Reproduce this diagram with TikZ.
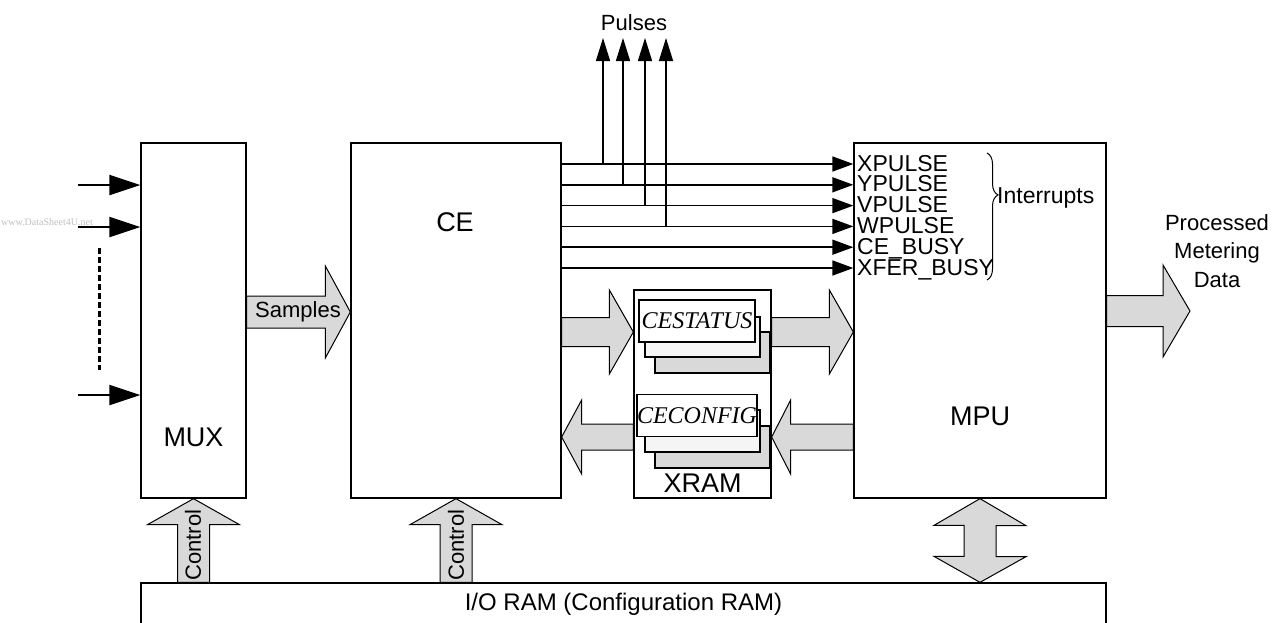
\documentclass[tikz,border=0pt]{standalone}
\usepackage{fontspec}
\setmainfont{Liberation Sans}
\newfontfamily\regfont{Liberation Serif}
\usetikzlibrary{arrows.meta, calc, decorations.pathreplacing}

\newcommand{\fatarrow}[5]{%
  \path ($(#2)!#3!(#1)$) coordinate (fb);
  \draw[fat] ($(#1)!#5!90:(#2)$) -- ($(fb)!#5!90:(#2)$) -- ($(fb)!#4!90:(#2)$) -- (#2)
    -- ($(fb)!#4!-90:(#2)$) -- ($(fb)!#5!-90:(#2)$) -- ($(#1)!#5!-90:(#2)$) -- cycle;}

\begin{document}
\begin{tikzpicture}[x=1pt, y=-1pt, line join=miter]

  \tikzstyle{block}=[draw, line width=1.3pt, inner sep=0pt]
  \tikzstyle{fat}=[draw, fill=gray!30, line width=1pt]
  \tikzstyle{sig}=[line width=1.5pt, -{Triangle[length=21pt, width=15pt]}]
  \tikzstyle{pulse}=[line width=1.5pt, -{Triangle[length=23pt, width=14pt]}]
  \tikzstyle{input}=[line width=2.2pt, -{Triangle[length=31pt, width=20pt]}]
  \tikzstyle{big}=[font=\fontsize{27}{32}\selectfont, anchor=base, inner sep=0pt]
  \tikzstyle{txt}=[font=\fontsize{22}{26}\selectfont, inner sep=0pt]
  \tikzstyle{reg}=[draw, fill=white, line width=1.1pt, inner sep=0pt, minimum width=116pt, minimum height=42pt, font=\regfont\itshape\fontsize{24}{28}\selectfont]
  \tikzstyle{shadow}=[draw, line width=1.1pt]

  \useasboundingbox (0,0) rectangle (1273,622);
  \clip (0,0) rectangle (1273,622);

  \node[block, minimum width=105pt, minimum height=355pt] (MUX) at (193.5,320.5) {};
  \node[block, minimum width=210pt, minimum height=355pt] (CE) at (456,320.5) {};
  \node[block, minimum width=137pt, minimum height=208pt] (XRAM) at (702.5,394) {};
  \node[block, minimum width=252pt, minimum height=355pt] (MPU) at (980,320.5) {};
  \node[block, minimum width=965pt, minimum height=42pt, font=\fontsize{24}{28}\selectfont] (IORAM) at (623.5,604) {I/O RAM (Configuration RAM)};

  \node[big] at (193.5,446) {MUX};
  \node[big] at (455,231) {CE};
  \node[big] at (980,425) {MPU};
  \node[big] at (702.5,492) {XRAM};

  \draw[shadow, fill=gray!30] (655,332) rectangle (770,373);
  \draw[shadow, fill=gray!8] (645,317) rectangle (760,357);
  \node[reg] (CESTATUS) at (697,321) {CESTATUS};
  \draw[shadow, fill=gray!30] (655,426) rectangle (770,468);
  \draw[shadow, fill=gray!8] (645,410) rectangle (760,452);
  \node[reg] (CECONFIG) at (697,415.5) {CECONFIG};

  \coordinate (in1) at (78,185);
  \coordinate (in2) at (78,227);
  \coordinate (in3) at (78,395);
  \foreach \n in {in1,in2,in3}
    \draw[input] (\n) -- (\n -| MUX.west);
  \draw[line width=3pt, dash pattern=on 6pt off 3pt] (99,248) -- (99,370);
  \node[font=\regfont\fontsize{10}{12}\selectfont, text=gray!50, inner sep=0pt] at (47,222) {www.DataSheet4U.net};

  \coordinate (ptop) at (0,38);
  \foreach \sig [count=\i from 0] in {XPULSE,YPULSE,VPULSE,WPULSE,CE\_BUSY,XFER\_BUSY} {
    \pgfmathsetmacro\ypos{164+20.8*\i}
    \coordinate (s\i) at (0,\ypos);
    \draw[sig] (CE.east |- s\i) -- (MPU.west |- s\i);
    \node[txt, anchor=base west, font=\fontsize{23}{26}\selectfont] at (857,\ypos+7) {\sig};
  }
  \foreach \x [count=\i from 0] in {603,623,645,666} {
    \coordinate (tap\i) at (\x,164+20.8*\i);
    \draw[pulse] (tap\i) -- (tap\i |- ptop);
  }
  \node[txt, anchor=base] (Pulses) at (634,30) {Pulses};

  \draw[line width=1pt, decorate, decoration={brace, amplitude=11pt, aspect=0.33}] (987,153) -- (987,280);
  \node[txt, anchor=base west, font=\fontsize{23}{26}\selectfont] (Interrupts) at (997,203) {Interrupts};

  \coordinate (smp) at (0,312);
  \coordinate (st) at (0,332);
  \coordinate (cf) at (0,437);
  \coordinate (pd) at (1190,311);
  \coordinate (MUXout) at (MUX.east |- smp);
  \coordinate (CEin) at (CE.west |- smp);
  \coordinate (CEout) at (CE.east |- st);
  \coordinate (XRAMin) at (XRAM.west |- st);
  \coordinate (XRAMout) at (XRAM.east |- st);
  \coordinate (MPUin) at (MPU.west |- st);
  \coordinate (MPUcfg) at (MPU.west |- cf);
  \coordinate (XRAMcfgR) at (XRAM.east |- cf);
  \coordinate (XRAMcfgL) at (XRAM.west |- cf);
  \coordinate (CEcfg) at (CE.east |- cf);
  \coordinate (MPUout) at (MPU.east |- pd);
  \coordinate (MUXctl) at (MUX.south |- IORAM.north);
  \coordinate (CEctl) at (CE.south |- IORAM.north);

  \fatarrow{MUXout}{CEin}{25pt}{46pt}{16pt}
  \fatarrow{CEout}{XRAMin}{24pt}{42pt}{14.5pt}
  \fatarrow{XRAMout}{MPUin}{24pt}{42pt}{14.5pt}
  \fatarrow{MPUcfg}{XRAMcfgR}{19pt}{37pt}{13pt}
  \fatarrow{XRAMcfgL}{CEcfg}{20pt}{37pt}{13pt}
  \fatarrow{MPUout}{pd}{27pt}{46pt}{15.5pt}
  \fatarrow{MUXctl}{MUX.south}{26pt}{46pt}{16pt}
  \fatarrow{CEctl}{CE.south}{26pt}{46pt}{16pt}
  \draw[fat] (MPU.south) -- ++(46,27) -- ++(-30,0) -- ++(0,31) -- ++(30,0) -- (MPU.south |- IORAM.north)
    -- ++(-46,-26) -- ++(30,0) -- ++(0,-31) -- ++(-30,0) -- cycle;

  \node[txt] at (298,312) {Samples};
  \node[txt, rotate=90] at (193,545) {Control};
  \node[txt, rotate=90] at (456,545) {Control};
  \node[txt, align=center, font=\fontsize{22}{28.5}\selectfont] at (1217,251) {Processed\\Metering\\Data};

\end{tikzpicture}
\end{document}
